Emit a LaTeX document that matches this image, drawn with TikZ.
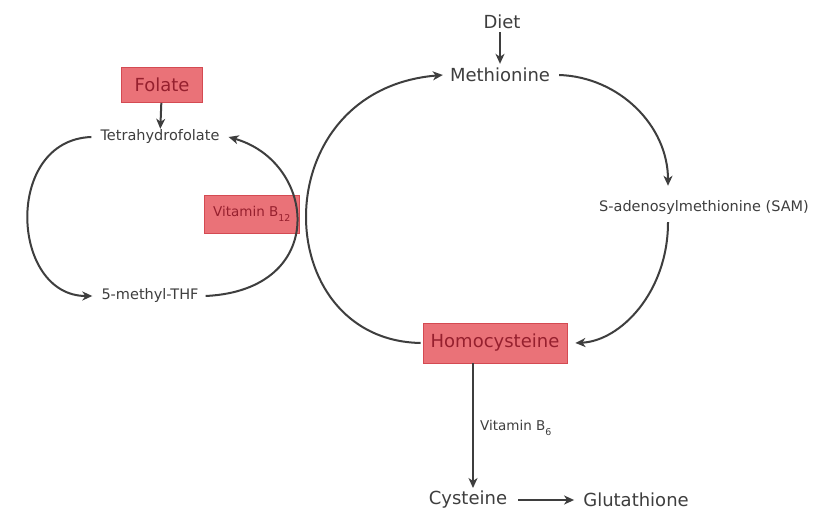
\documentclass[tikz,border=0pt]{standalone}
\usepackage{fontspec}
\setmainfont{DejaVu Sans}
\usetikzlibrary{positioning,arrows.meta}
\definecolor{boxfill}{RGB}{234,114,120}
\definecolor{boxline}{RGB}{212,74,82}
\definecolor{boxtext}{RGB}{150,32,46}
\definecolor{ink}{RGB}{62,62,62}
\newcommand{\lowsub}[1]{\raisebox{-0.4ex}{\textsubscript{#1}}}
\tikzset{
  big/.style={text=ink,font=\fontsize{18}{20}\selectfont,inner sep=1pt},
  small/.style={text=ink,font=\fontsize{14.5}{16}\selectfont,inner sep=1pt},
  redbox/.style={draw=boxline,fill=boxfill,text=boxtext,line width=0.8pt,inner sep=0pt},
  flow/.style={->,draw=ink,line width=2pt}
}
\begin{document}
\begin{tikzpicture}[x=1pt,y=-1pt,>={Stealth[length=10pt,width=9pt,inset=3pt]}]
      \fill[white] (0,0) rectangle (829,510);
      \node[big] (meth) at (500,75) {Methionine};
      \node[big] (diet) at (502,22) {Diet};
      \node[small] (sam) at (704,208) {S-adenosylmethionine (SAM)};
      \node[redbox,big,text=boxtext,minimum width=144pt,minimum height=40pt] (homo) at (495,343) {Homocysteine};
      \node[big] (cys) at (468,500) {Cysteine};
      \node[big] (glut) at (636,500) {Glutathione};
      \node[redbox,big,text=boxtext,minimum width=81pt,minimum height=35pt] (fol) at (162,85) {Folate};
      \node[small] (thf) at (160,137) {Tetrahydrofolate};
      \node[small] (mthf) at (150,296) {5-methyl-THF};
      \node[redbox,font=\fontsize{13.5}{15}\selectfont,minimum width=95pt,minimum height=38pt] (b12) at (252,214) {Vitamin B\lowsub{12}};
      \node[small,font=\fontsize{13.5}{15}\selectfont,anchor=west] (b6) at (479,428) {Vitamin B\lowsub{6}};
      \coordinate (hbot) at (473,363);
      \coordinate (ctop) at (473,488);
      % methionine cycle
      \draw[flow] ([yshift=-2pt]diet.south -| meth.north) -- ([yshift=3pt]meth.north);
      \draw[flow] ([xshift=8pt]meth.east) .. controls +(60,2) and +(0,-60) .. ([yshift=14pt]sam.north -| 668,0);
      \draw[flow] ([yshift=-6pt]sam.south -| 668,0) .. controls +(0,70) and +(45,-2) .. ([xshift=8pt]homo.east);
      \draw[flow] ([xshift=-2pt]homo.west) .. controls +(-153,-3) and +(-180,15) .. ([xshift=-6pt]meth.west);
      \draw[flow] (hbot) -- (ctop);
      \draw[flow] ([xshift=10pt]cys.east) -- ([xshift=-8pt]glut.west);
      % folate cycle
      \draw[flow] (fol) -- (thf);
      \draw[flow] ([xshift=-8pt]thf.west) .. controls +(-88,3) and +(-82,0) .. ([xshift=-8pt]mthf.west);
      \draw[flow] ([xshift=6pt]mthf.east) .. controls +(124,-6) and +(88,25) .. ([xshift=8pt]thf.east);
\end{tikzpicture}
\end{document}
